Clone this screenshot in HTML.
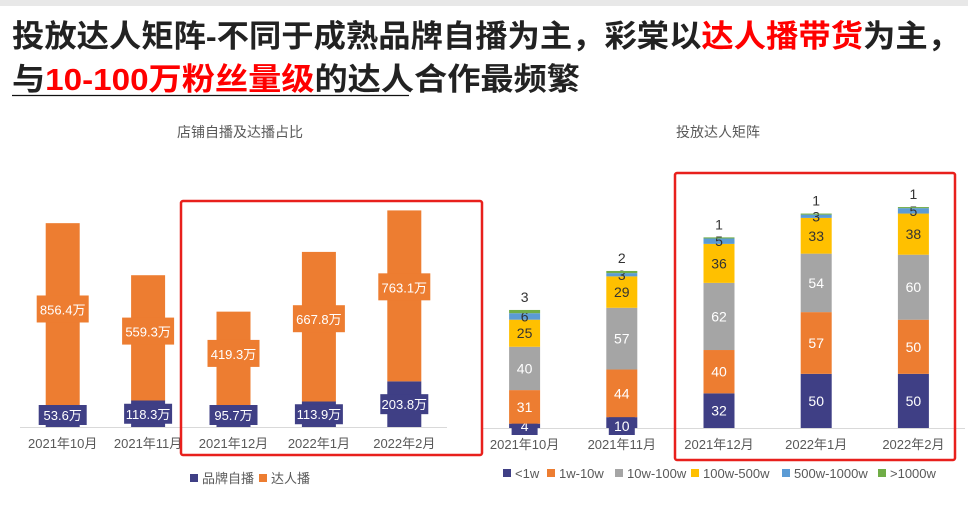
<!DOCTYPE html>
<html><head><meta charset="utf-8"><style>
html,body{margin:0;padding:0;background:#fff;}
body{width:968px;height:501px;overflow:hidden;font-family:"Liberation Sans","Noto Sans CJK SC",sans-serif;}
svg text{font-family:"Liberation Sans","Noto Sans CJK SC",sans-serif;}
</style></head><body>
<svg id="s" width="968" height="501" xmlns="http://www.w3.org/2000/svg">
<rect x="0" y="0" width="968" height="6" fill="#e8e8e8"/>
<text x="12" y="47" font-size="31" font-weight="bold" fill="#222" textLength="948" lengthAdjust="spacingAndGlyphs">投放达人矩阵-不同于成熟品牌自播为主，彩棠以<tspan fill="#f00">达人播带货</tspan>为主，</text>
<text x="12" y="90" font-size="31" font-weight="bold" fill="#222" textLength="568" lengthAdjust="spacingAndGlyphs">与<tspan fill="#f00">10-100万粉丝量级</tspan>的达人合作最频繁</text>
<line x1="12" y1="95.5" x2="409" y2="95.5" stroke="#111" stroke-width="1.2"/>
<text x="240" y="137" font-size="14" fill="#595959" text-anchor="middle">店铺自播及达播占比</text>
<text x="718" y="137" font-size="14" fill="#595959" text-anchor="middle">投放达人矩阵</text>
<g id="left"></g>
<g id="right"></g>
<rect x="181" y="201" width="301" height="254" fill="none" stroke="#e8201c" stroke-width="2.5" rx="2"/>
<rect x="675" y="173" width="280" height="287" fill="none" stroke="#e8201c" stroke-width="2.5" rx="2"/>
</svg>
<script>
const leftCats=["2021年10月","2021年11月","2021年12月","2022年1月","2022年2月"];
const brandVals=[53.6,118.3,95.7,113.9,203.8];
const darenVals=[856.4,559.3,419.3,667.8,763.1];
const rightCats=["2021年10月","2021年11月","2021年12月","2022年1月","2022年2月"];
const lt1w=[4,10,32,50,50];
const w1to10=[31,44,40,57,50];
const w10to100=[40,57,62,54,60];
const w100to500=[25,29,36,33,38];
const w500to1000=[6,3,5,3,5];
const gt1000=[3,2,1,1,1];
const rightSeriesNames=["<1w","1w-10w","10w-100w","100w-500w","500w-1000w",">1000w"];

const NS="http://www.w3.org/2000/svg";
function mk(tag,attrs,parent,txt){const e=document.createElementNS(NS,tag);for(const k in attrs)e.setAttribute(k,attrs[k]);if(txt!==undefined)e.textContent=txt;parent.appendChild(e);return e;}

const L=document.getElementById('left');
const lBase=427, lScale=0.224, lX0=20, lBand=85.4, lW=34;
const lx=i=>lX0+lBand*(i+0.5);
const ly=v=>lBase-v*lScale;
let ax=mk('line',{x1:20,y1:lBase+0.5,x2:447,y2:lBase+0.5,stroke:'#d9d9d9'},L);


leftCats.forEach((c,i)=>{
  const cx=lx(i);
  let b=mk('rect',{x:cx-lW/2,y:ly(brandVals[i]),width:lW,height:brandVals[i]*lScale,fill:'#3f3f85'},L);
  
  
  let d=mk('rect',{x:cx-lW/2,y:ly(brandVals[i]+darenVals[i]),width:lW,height:darenVals[i]*lScale,fill:'#ed7d31'},L);
  
  
  const dy=ly(brandVals[i]+darenVals[i]*0.55);
  mk('rect',{x:cx-26,y:dy-14,width:52,height:27,fill:'#ed7d31'},L);
  let t=mk('text',{x:cx,y:dy+5,'font-size':13,fill:'#fff','text-anchor':'middle'},L,darenVals[i]+'万');
  
  
  const by=Math.min(ly(brandVals[i]/2),lBase-12);
  mk('rect',{x:cx-24,y:by-10,width:48,height:20,fill:'#3f3f85'},L);
  let t2=mk('text',{x:cx,y:by+5,'font-size':13,fill:'#fff','text-anchor':'middle'},L,brandVals[i]+'万');
  
  
  let xl=mk('text',{x:cx,y:448,'font-size':13,fill:'#595959','text-anchor':'middle'},L,c);
  
  
});
let s1=mk('rect',{x:190,y:474,width:8,height:8,fill:'#3f3f85'},L);


let lt1=mk('text',{x:202,y:483,'font-size':13,fill:'#595959'},L,'品牌自播');


let s2=mk('rect',{x:259,y:474,width:8,height:8,fill:'#ed7d31'},L);


let lt2=mk('text',{x:271,y:483,'font-size':13,fill:'#595959'},L,'达人播');



const R=document.getElementById('right');
const rBase=428, rScale=1.083, rX0=476, rBand=97.2, rW=31;
const rx=i=>rX0+rBand*(i+0.5);
const ry=v=>rBase-v*rScale;
const series=[lt1w,w1to10,w10to100,w100to500,w500to1000,gt1000];
const colors=['#3f3f85','#ed7d31','#a5a5a5','#ffc000','#5b9bd5','#70ad47'];
const txtCol=['#fff','#fff','#fff','#333','#333','#333'];
let ax2=mk('line',{x1:483,y1:rBase+0.5,x2:965,y2:rBase+0.5,stroke:'#d9d9d9'},R);


rightCats.forEach((c,i)=>{
  const cx=rx(i);let acc=0;
  series.forEach((arr,k)=>{
    const v=arr[i];
    let r=mk('rect',{x:cx-rW/2,y:ry(acc+v),width:rW,height:v*rScale,fill:colors[k]},R);
    
    
    let ty;
    if(k===5) ty=ry(acc+v)-8;
    else ty=ry(acc+v/2)+5;
    if(k===0 && v*rScale<20){mk('rect',{x:cx-13,y:rBase-15,width:26,height:22,fill:colors[0]},R);ty=rBase+3;}
    let t=mk('text',{x:cx,y:ty,'font-size':14,fill:(k===5?'#333':txtCol[k]),'text-anchor':'middle'},R,String(v));
    
    
    acc+=v;
  });
  let xl=mk('text',{x:cx,y:449,'font-size':13,fill:'#595959','text-anchor':'middle'},R,c);
  
  
});
const legX=[503,547,615,691,782,878];
rightSeriesNames.forEach((n,k)=>{
  let sw=mk('rect',{x:legX[k],y:469,width:8,height:8,fill:colors[k]},R);
  
  
  let t=mk('text',{x:legX[k]+12,y:478,'font-size':13,fill:'#595959'},R,n);
  
  
});
</script>
</body></html>
